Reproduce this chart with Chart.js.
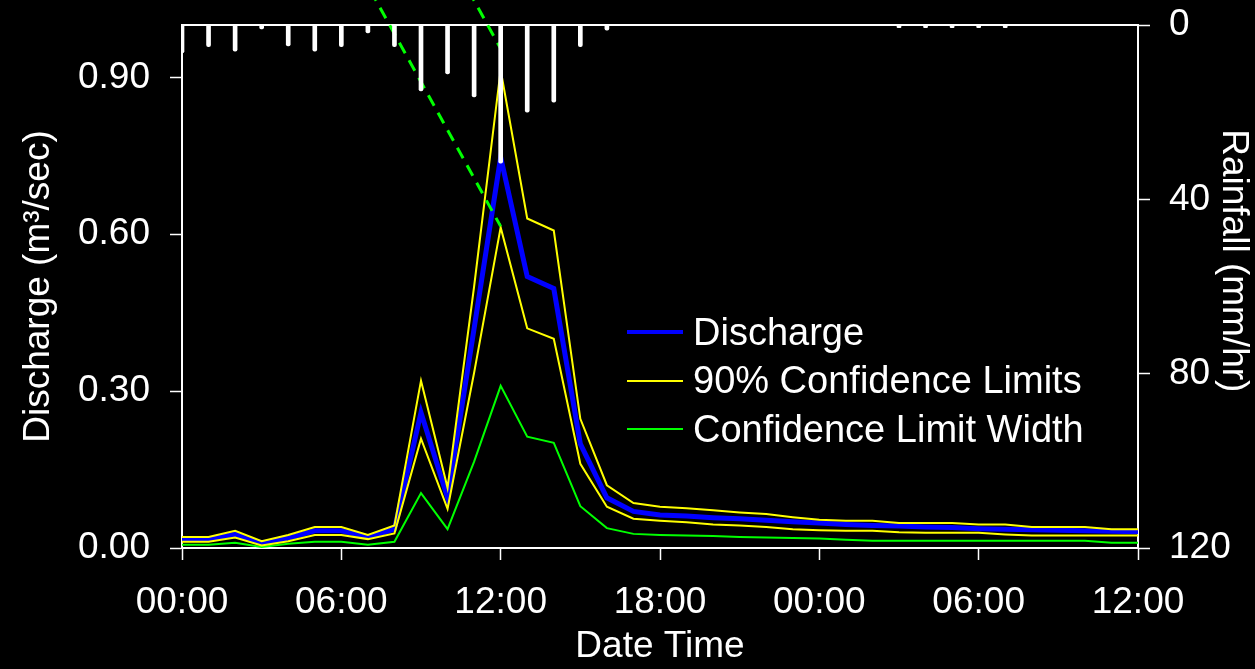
<!DOCTYPE html>
<html>
<head>
<meta charset="utf-8">
<title>Discharge and Rainfall</title>
<script src="https://cdn.jsdelivr.net/npm/chart.js@4.4.1/dist/chart.umd.min.js"></script>
<style>
  html, body { margin: 0; padding: 0; background: #000; }
  #wrap { position: relative; width: 1255px; height: 669px; }
  #legend {
    position: absolute; left: 627px; top: 308px;
    font-family: 'Liberation Sans', Arial, sans-serif; font-size: 38px; color: #fff;
  }
  #legend .row { display: flex; align-items: center; height: 48.5px; white-space: nowrap; }
  #legend .swatch { width: 56px; margin-right: 10px; }
</style>
</head>
<body>
<div id="wrap">
  <canvas id="hydroChart"></canvas>
  <div id="legend"></div>
</div>
<script>
// Stunden seit Beginn (00:00 am ersten Tag)
const hours = [0, 1, 2, 3, 4, 5, 6, 7, 8, 9, 10, 11, 12, 13, 14, 15, 16, 17, 18,
    19, 20, 21, 22, 23, 24, 25, 26, 27, 28, 29, 30, 31, 32, 33, 34, 35, 36];

const xTickLabels = ["00:00", "06:00", "12:00", "18:00", "00:00", "06:00", "12:00"];

// Abfluss (m3/sec)
const discharge = [0.017, 0.017, 0.026, 0.009, 0.019, 0.033, 0.033, 0.021, 0.036, 0.259,
    0.096, 0.420, 0.747, 0.519, 0.496, 0.199, 0.096, 0.070, 0.063, 0.061, 0.058, 0.056,
    0.053, 0.050, 0.048, 0.045, 0.043, 0.042, 0.040, 0.039, 0.037, 0.036, 0.035, 0.034,
    0.033, 0.032, 0.031];

const upperLimit = [0.021, 0.021, 0.033, 0.013, 0.025, 0.040, 0.040, 0.025, 0.043, 0.320,
    0.115, 0.500, 0.914, 0.630, 0.607, 0.247, 0.120, 0.086, 0.079, 0.076, 0.072, 0.068,
    0.065, 0.059, 0.054, 0.052, 0.052, 0.048, 0.048, 0.048, 0.045, 0.045, 0.040, 0.040,
    0.040, 0.036, 0.036];

const lowerLimit = [0.012, 0.012, 0.020, 0.005, 0.013, 0.025, 0.025, 0.017, 0.028, 0.209,
    0.075, 0.335, 0.613, 0.420, 0.400, 0.161, 0.079, 0.056, 0.052, 0.049, 0.045, 0.043,
    0.040, 0.036, 0.034, 0.033, 0.033, 0.030, 0.029, 0.029, 0.029, 0.026, 0.024, 0.024,
    0.024, 0.024, 0.024];

const limitWidth = [0.006, 0.006, 0.010, 0.002, 0.008, 0.012, 0.012, 0.006, 0.012, 0.105,
    0.036, 0.165, 0.310, 0.213, 0.201, 0.080, 0.038, 0.027, 0.025, 0.024, 0.023, 0.021,
    0.020, 0.019, 0.018, 0.016, 0.014, 0.014, 0.014, 0.014, 0.014, 0.014, 0.014, 0.014,
    0.014, 0.010, 0.010];

// Niederschlag (mm/hr)
const rainfall = [6.4, 5.0, 6.0, 0.9, 4.8, 6.0, 5.0, 1.8, 5.0, 15.1, 11.2, 16.5, 31.7,
    20.0, 17.7, 5.0, 1.2, 0, 0, 0, 0, 0, 0, 0, 0, 0, 0, 0.6, 0.6, 0.6, 0.6, 0.6,
    0, 0, 0, 0, 0];

// gestrichelte Hilfslinien (Stunde, Abfluss)
const tangentA = [{x: 6.73, y: 1.10}, {x: 12.0, y: 0.615}];
const tangentB = [{x: 10.42, y: 1.10}, {x: 12.0, y: 0.955}];

const legendOrder = ["Discharge", "90% Confidence Limits", "Confidence Limit Width"];

const toPoints = (values) => hours.map((h, i) => ({x: h, y: values[i]}));

Chart.defaults.font.family = "'Liberation Sans', Arial, sans-serif";
Chart.defaults.font.size = 37;
Chart.defaults.color = "#ffffff";

/*
Baut die Legende als HTML neben dem Diagramm.
 */
const htmlLegend = {
    id: "htmlLegend",
    afterUpdate(chart) {
        const box = document.getElementById("legend");
        const items = Chart.defaults.plugins.legend.labels.generateLabels(chart)
            .filter((item) => legendOrder.includes(item.text))
            .sort((a, b) => legendOrder.indexOf(a.text) - legendOrder.indexOf(b.text));
        box.innerHTML = "";
        items.forEach((item) => {
            const row = document.createElement("div");
            row.className = "row";
            const swatch = document.createElement("span");
            swatch.className = "swatch";
            swatch.style.height = (item.lineWidth > 3 ? 4 : 2) + "px";
            swatch.style.background = item.strokeStyle;
            const text = document.createElement("span");
            text.textContent = item.text;
            row.appendChild(swatch);
            row.appendChild(text);
            box.appendChild(row);
        });
    }
};

// feste Achsenbreiten, ohne Zusatzabstand für Beschriftungen
function fixSize(size) {
    return function (scale) {
        if (scale.isHorizontal()) {
            scale.height = size;
        } else {
            scale.width = size;
        }
        scale.paddingTop = 0;
        scale.paddingBottom = 0;
        scale.paddingLeft = 0;
        scale.paddingRight = 0;
    };
}

const tickGrid = {drawOnChartArea: false, drawTicks: true, offset: false, tickLength: 12, tickColor: "#ffffff", tickWidth: 1.5};
const axisBorder = {color: "#ffffff", width: 2};
const lineStyle = {pointRadius: 0, tension: 0, fill: false, xAxisID: "x", yAxisID: "y"};

const ctx = document.getElementById("hydroChart");
const hydroChart = new Chart(ctx, {
    type: "line",
    data: {
        datasets: [
            {
                type: "bar",
                label: "Rainfall",
                data: toPoints(rainfall),
                xAxisID: "x",
                yAxisID: "yRain",
                backgroundColor: "#ffffff",
                barThickness: 4,
                borderRadius: 2,
                grouped: false
            },
            Object.assign({}, lineStyle, {
                label: "Tangent A",
                data: tangentA,
                borderColor: "#00ff00",
                borderWidth: 3,
                borderDash: [12, 8],
                clip: false
            }),
            Object.assign({}, lineStyle, {
                label: "Tangent B",
                data: tangentB,
                borderColor: "#00ff00",
                borderWidth: 3,
                borderDash: [12, 8],
                clip: false
            }),
            Object.assign({}, lineStyle, {
                label: "90% Confidence Limits",
                data: toPoints(upperLimit),
                borderColor: "#ffff00",
                borderWidth: 2
            }),
            Object.assign({}, lineStyle, {
                label: "90% Confidence Limits (lower)",
                data: toPoints(lowerLimit),
                borderColor: "#ffff00",
                borderWidth: 2
            }),
            Object.assign({}, lineStyle, {
                label: "Discharge",
                data: toPoints(discharge),
                borderColor: "#0000ff",
                borderWidth: 5
            }),
            Object.assign({}, lineStyle, {
                label: "Confidence Limit Width",
                data: toPoints(limitWidth),
                borderColor: "#00ff00",
                borderWidth: 2
            })
        ]
    },
    options: {
        responsive: true,
        maintainAspectRatio: false,
        animation: false,
        layout: {padding: {top: 25, left: 0, right: 0, bottom: 0}},
        plugins: {
            legend: {display: false},
            tooltip: {enabled: false}
        },
        scales: {
            x: {
                type: "linear",
                position: "bottom",
                offset: false,
                min: 0,
                max: 36,
                afterFit: fixSize(121),
                ticks: {
                    stepSize: 6,
                    padding: 21,
                    color: "#ffffff",
                    callback: (value) => xTickLabels[value / 6]
                },
                grid: tickGrid,
                border: axisBorder,
                title: {display: true, text: "Date Time", color: "#ffffff", padding: {top: 0, bottom: 0}}
            },
            xTop: {
                type: "linear",
                position: "top",
                offset: false,
                min: 0,
                max: 36,
                afterFit: fixSize(0),
                ticks: {display: false},
                grid: {drawOnChartArea: false, drawTicks: false, offset: false},
                border: axisBorder
            },
            y: {
                type: "linear",
                position: "left",
                min: 0,
                max: 1.0,
                afterFit: fixSize(182),
                ticks: {
                    stepSize: 0.3,
                    includeBounds: false,
                    padding: 20,
                    color: "#ffffff",
                    callback: (value) => value.toFixed(2)
                },
                grid: tickGrid,
                border: axisBorder,
                title: {display: true, text: "Discharge (m³/sec)", color: "#ffffff", padding: {top: 17, bottom: 0}}
            },
            yRain: {
                type: "linear",
                position: "right",
                reverse: true,
                min: 0,
                max: 120,
                afterFit: fixSize(117),
                ticks: {stepSize: 40, padding: 19, color: "#ffffff"},
                grid: tickGrid,
                border: axisBorder,
                // Leerzeichen am Ende schieben den zentrierten Titel etwas nach oben
                title: {display: true, text: "Rainfall (mm/hr)     ", color: "#ffffff", padding: {top: 0, bottom: 0}}
            }
        }
    },
    plugins: [htmlLegend]
});
</script>
</body>
</html>
